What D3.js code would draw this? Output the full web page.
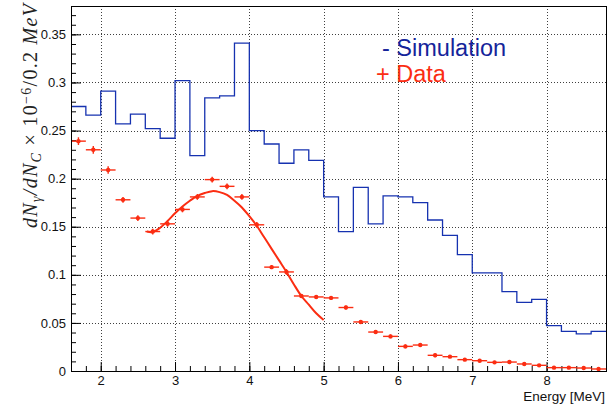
<!DOCTYPE html>
<html>
<head>
<meta charset="utf-8">
<script src="https://d3js.org/d3.v7.min.js"></script>
<style>
  body { margin: 0; background: #fff; }
  svg { display: block; font-family: "Liberation Sans", Arial, sans-serif; }
</style>
</head>
<body>
<svg id="canvas"></svg>
<script>
"use strict";

// Bin edges (0.2 MeV bins from 1.6 to 8.8 MeV)
const binLow = [1.6, 1.8, 2.0, 2.2, 2.4, 2.6, 2.8, 3.0, 3.2, 3.4, 3.6, 3.8,
    4.0, 4.2, 4.4, 4.6, 4.8, 5.0, 5.2, 5.4, 5.6, 5.8, 6.0, 6.2,
    6.4, 6.6, 6.8, 7.0, 7.2, 7.4, 7.6, 7.8, 8.0, 8.2, 8.4, 8.6];
const binWidth = 0.2;

// Simulation histogram contents
const simValues = [0.275, 0.266, 0.291, 0.257, 0.267, 0.252, 0.242, 0.302, 0.224, 0.284, 0.286, 0.341,
    0.250, 0.236, 0.216, 0.230, 0.219, 0.181, 0.145, 0.191, 0.153, 0.182, 0.181, 0.175,
    0.157, 0.141, 0.121, 0.102, 0.102, 0.0825, 0.0714, 0.0745, 0.0471, 0.0412, 0.0385, 0.0412];

// Data points (one per bin) and their vertical errors
const dataValues = [0.239, 0.230, 0.209, 0.178, 0.159, 0.145, 0.153, 0.168, 0.181, 0.199, 0.192, 0.181,
    0.152, 0.108, 0.103, 0.078, 0.077, 0.076, 0.066, 0.051, 0.0405, 0.036, 0.0256, 0.027,
    0.0163, 0.0149, 0.0118, 0.0107, 0.009, 0.0093, 0.0073, 0.0059, 0.0035, 0.0035, 0.0031, 0.0021];
const dataErrors = [0.004, 0.004, 0.004, 0.003, 0.003, 0.003, 0.003, 0.003, 0.003, 0.003, 0.003, 0.003,
    0.003, 0.002, 0.003, 0.002, 0.002, 0.002, 0.002, 0.002, 0.002, 0.002, 0.002, 0.002,
    0.002, 0.0015, 0.0015, 0.0015, 0.0015, 0.0015, 0.0015, 0.0015, 0.001, 0.001, 0.001, 0.001];

// Fit curve
const fitX = [2.62, 2.7, 2.8, 2.9, 3.0, 3.1, 3.2, 3.3, 3.4, 3.5, 3.6, 3.7, 3.8, 3.9,
    4.0, 4.1, 4.2, 4.3, 4.4, 4.5, 4.6, 4.7, 4.8, 4.9, 5.0];
const fitY = [0.145, 0.1445, 0.149, 0.156, 0.164, 0.171, 0.177, 0.182, 0.185, 0.187, 0.186, 0.183, 0.177, 0.170,
    0.161, 0.151, 0.139, 0.127, 0.115, 0.103, 0.090, 0.078, 0.069, 0.060, 0.053];

// Axis ticks
const xTicks = [2, 3, 4, 5, 6, 7, 8];
const yTicks = [0, 0.05, 0.1, 0.15, 0.2, 0.25, 0.3, 0.35];
const yTickLabels = ["0", "0.05", "0.1", "0.15", "0.2", "0.25", "0.3", "0.35"];

const canvasWidth = 616;
const canvasHeight = 406;
const frame = { left: 71, right: 606, top: 6, bottom: 371 };
const blue = "#1632b0";
const red = "#fb2d12";

const canvas = d3.select("#canvas")
    .attr("width", canvasWidth)
    .attr("height", canvasHeight);

// Scales
const x = d3.scaleLinear().domain([1.6, 8.8]).range([frame.left, frame.right]);
const y = d3.scaleLinear().domain([0, 0.3795]).range([frame.bottom, frame.top]);

// Grid
const grid = canvas.append("g")
    .attr("stroke", "#000")
    .attr("stroke-width", 1)
    .attr("stroke-dasharray", "1,2")
    .attr("opacity", 0.75);
grid.selectAll("line.gx")
    .data(xTicks)
    .join("line")
    .attr("x1", d => Math.round(x(d)) + 0.5)
    .attr("x2", d => Math.round(x(d)) + 0.5)
    .attr("y1", frame.top)
    .attr("y2", frame.bottom);
grid.selectAll("line.gy")
    .data(yTicks.slice(1))
    .join("line")
    .attr("class", "gy")
    .attr("x1", frame.left)
    .attr("x2", frame.right)
    .attr("y1", d => Math.round(y(d)) + 0.5)
    .attr("y2", d => Math.round(y(d)) + 0.5);

// Axes (ticks pointing inward, ROOT style)
const yMinor = d3.range(0, 0.38, 0.01).map(v => +v.toFixed(2));
const xMinor = d3.range(1.6, 8.81, 0.2).map(v => +v.toFixed(1));

canvas.append("g")
    .attr("transform", `translate(${frame.left},0)`)
    .call(d3.axisLeft(y).tickValues(yTicks).tickSize(-10).tickPadding(5)
        .tickFormat((d, i) => yTickLabels[i]));
canvas.append("g")
    .attr("transform", `translate(${frame.left},0)`)
    .call(d3.axisLeft(y).tickValues(yMinor).tickSize(-5).tickFormat(""));

canvas.append("g")
    .attr("transform", `translate(0,${frame.bottom})`)
    .call(d3.axisBottom(x).tickValues(xTicks).tickSize(-9).tickPadding(5));
canvas.append("g")
    .attr("transform", `translate(0,${frame.bottom})`)
    .call(d3.axisBottom(x).tickValues(xMinor).tickSize(-5).tickFormat(""));

canvas.selectAll(".domain").remove();
canvas.selectAll(".tick text")
    .attr("font-size", 13)
    .attr("font-family", "Liberation Sans, Arial, sans-serif")
    .attr("fill", "#111");

// Simulation histogram
const stepPoints = binLow.map((b, i) => [b, simValues[i]]);
stepPoints.push([binLow[binLow.length - 1] + binWidth, simValues[simValues.length - 1]]);
canvas.append("path")
    .datum(stepPoints)
    .attr("fill", "none")
    .attr("stroke", blue)
    .attr("stroke-width", 1.3)
    .attr("d", d3.line()
        .x(d => x(d[0]))
        .y(d => y(d[1]))
        .curve(d3.curveStepAfter));

// Data points with error bars
const dataGroup = canvas.append("g")
    .attr("stroke", red)
    .attr("fill", red);
const points = dataGroup.selectAll("g.pt")
    .data(binLow.map((b, i) => ({ x: b + binWidth / 2, y: dataValues[i], e: dataErrors[i] })))
    .join("g");
points.append("line")
    .attr("stroke-width", 1.4)
    .attr("x1", d => x(d.x - binWidth / 2))
    .attr("x2", d => x(d.x + binWidth / 2))
    .attr("y1", d => y(d.y))
    .attr("y2", d => y(d.y));
points.append("line")
    .attr("stroke-width", 1.4)
    .attr("x1", d => x(d.x))
    .attr("x2", d => x(d.x))
    .attr("y1", d => y(d.y - d.e))
    .attr("y2", d => y(d.y + d.e));
points.append("circle")
    .attr("stroke", "none")
    .attr("cx", d => x(d.x))
    .attr("cy", d => y(d.y))
    .attr("r", 2.2);

// Fit curve
canvas.append("path")
    .datum(fitX.map((v, i) => [v, fitY[i]]))
    .attr("fill", "none")
    .attr("stroke", red)
    .attr("stroke-width", 2)
    .attr("d", d3.line()
        .x(d => x(d[0]))
        .y(d => y(d[1]))
        .curve(d3.curveCatmullRom));

// Frame
canvas.append("rect")
    .attr("x", frame.left + 0.5)
    .attr("y", frame.top + 0.5)
    .attr("width", frame.right - frame.left)
    .attr("height", frame.bottom - frame.top)
    .attr("fill", "none")
    .attr("stroke", "#000")
    .attr("stroke-width", 1);

// Legend text
canvas.append("text")
    .attr("x", 382)
    .attr("y", 56)
    .attr("font-size", 23.5)
    .attr("fill", "#14249a")
    .text("- Simulation");
canvas.append("text")
    .attr("x", 376)
    .attr("y", 82)
    .attr("font-size", 23.5)
    .attr("fill", red)
    .text("+ Data");

// X axis title
canvas.append("text")
    .attr("x", 605)
    .attr("y", 401)
    .attr("text-anchor", "end")
    .attr("font-size", 13.5)
    .attr("fill", "#111")
    .text("Energy [MeV]");

// Y axis title (math text)
const yTitle = canvas.append("text")
    .attr("transform", "translate(37,4) rotate(-90)")
    .attr("text-anchor", "end")
    .attr("font-family", "Liberation Serif, Times New Roman, serif")
    .attr("font-size", 20)
    .attr("fill", "#222")
    .attr("textLength", 224)
    .attr("lengthAdjust", "spacing");
const titleParts = [
    { t: "dN", italic: true },
    { t: "\u03b3", italic: true, sub: true },
    { t: "/dN", italic: true },
    { t: "C", italic: true, sub: true },
    { t: " \u00d7 10" },
    { t: "\u22126", sup: true },
    { t: "/0.2 " },
    { t: "MeV", italic: true }
];
titleParts.forEach(p => {
    const span = yTitle.append("tspan")
        .text(p.t)
        .attr("font-style", p.italic ? "italic" : "normal");
    if (p.sub) span.attr("font-size", 14).attr("baseline-shift", "-30%");
    if (p.sup) span.attr("font-size", 14).attr("baseline-shift", "45%");
});
</script>
</body>
</html>
